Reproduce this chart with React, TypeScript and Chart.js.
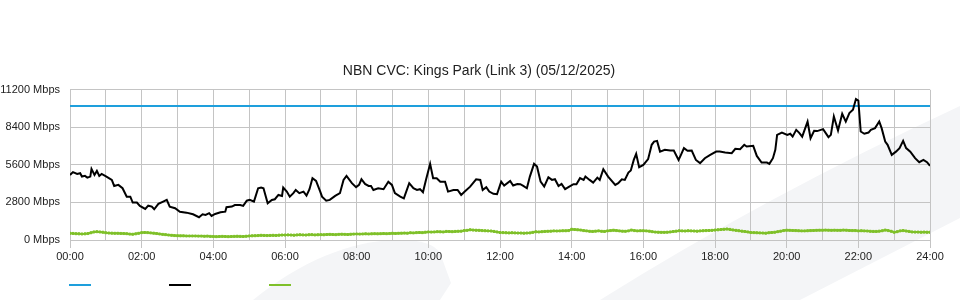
import React, { useEffect, useRef } from 'react';
import { Chart, registerables } from 'chart.js';

Chart.register(...registerables);

const TITLE = 'NBN CVC: Kings Park (Link 3) (05/12/2025)';
const Y_MAX = 11200;
const Y_STEP = 2800;
const X_LABEL_EVERY_MIN = 120;
const DAY_MINUTES = 1440;

// Capacity line (Mbps)
const capacityMbps = 10000;

// Traffic (black line): sample times in minutes after midnight and values in Mbps
const trafficMinutes = [
  0, 5, 12, 17, 20, 25, 29, 34, 36, 41,
  45, 49, 53, 61, 70, 74, 81, 88, 95, 101,
  105, 112, 117, 126, 131, 137, 141, 148, 156, 162,
  167, 176, 184, 195, 206, 216, 222, 227, 233, 237,
  243, 252, 260, 262, 271, 276, 285, 290, 296, 301,
  308, 315, 320, 324, 331, 338, 343, 349, 355, 357,
  363, 368, 374, 378, 384, 391, 396, 401, 406, 412,
  419, 422, 429, 435, 444, 452, 458, 463, 472, 479,
  484, 488, 494, 500, 504, 508, 516, 525, 533, 539,
  544, 553, 559, 568, 575, 581, 586, 591, 596, 603,
  608, 614, 620, 628, 633, 642, 649, 655, 661, 670,
  680, 687, 691, 697, 702, 709, 715, 722, 727, 737,
  742, 749, 754, 759, 765, 770, 777, 782, 788, 794,
  801, 807, 812, 818, 823, 829, 836, 843, 848, 854,
  860, 863, 870, 876, 883, 887, 893, 901, 913, 918,
  924, 929, 935, 939, 944, 948, 953, 960, 968, 974,
  978, 983, 988, 996, 1005, 1011, 1019, 1023, 1028, 1034,
  1041, 1048, 1055, 1063, 1072, 1082, 1088, 1097, 1108, 1114,
  1122, 1129, 1133, 1144, 1150, 1158, 1167, 1171, 1177, 1181,
  1184, 1192, 1201, 1206, 1210, 1216, 1221, 1226, 1235, 1240,
  1246, 1251, 1261, 1270, 1274, 1279, 1286, 1293, 1299, 1305,
  1311, 1316, 1320, 1324, 1330, 1337, 1341, 1348, 1355, 1359,
  1365, 1369, 1376, 1383, 1389, 1395, 1400, 1407, 1415, 1422,
  1429, 1435, 1440,
];
const trafficMbps = [
  4850, 5060, 4930, 4980, 4730, 4780, 4650, 4730, 5300, 4850,
  5150, 4780, 4930, 4730, 4480, 4030, 4110, 3860, 3230, 3230,
  2790, 2790, 2540, 2320, 2560, 2490, 2290, 2690, 2860, 2990,
  2490, 2370, 2110, 2040, 1920, 1700, 1920, 1870, 2000, 1790,
  1940, 2070, 2110, 2440, 2490, 2610, 2610, 2540, 2930, 2990,
  2860, 3860, 3910, 3860, 2740, 2990, 3040, 3360, 3290, 3910,
  3610, 3230, 3490, 3730, 3490, 3610, 3310, 3790, 4610, 4410,
  3610, 3230, 2930, 2990, 3290, 3490, 4480, 4780, 4240, 3940,
  4110, 4530, 4180, 4030, 4030, 3730, 3860, 3790, 4350, 4110,
  3490, 3230, 3110, 4240, 3860, 3730, 3790, 3560, 4480, 5680,
  4610, 4610, 4350, 4350, 3610, 3730, 3730, 3360, 3610, 3980,
  4530, 4480, 3730, 3940, 3610, 3440, 3410, 4350, 4060, 4410,
  4060, 4180, 4160, 4030, 3860, 4730, 5680, 5470, 4350, 3980,
  4680, 4480, 4530, 4030, 4180, 3790, 3980, 4160, 4160, 4610,
  4480, 4730, 4480, 4280, 4650, 4480, 5280, 4730, 4110, 4240,
  4530, 4480, 5030, 5180, 5970, 6420, 5430, 5600, 6030, 7100,
  7340, 7390, 6590, 6720, 6670, 6670, 5970, 6350, 6850, 6650,
  6670, 5970, 5730, 6100, 6350, 6590, 6590, 6520, 6470, 6800,
  6770, 7100, 6970, 7020, 6270, 5770, 5770, 5680, 6100, 6720,
  7840, 8010, 7840, 7920, 7710, 8210, 7990, 7710, 8830, 7590,
  8140, 8120, 8270, 7670, 7840, 9210, 8160, 9410, 8830, 9460,
  9710, 10510, 10400, 8090, 7920, 8010, 8210, 8340, 8830, 8340,
  7340, 7100, 6350, 6590, 6850, 7390, 6850, 6590, 6100, 5800,
  5970, 5800, 5530,
];

// Green line: one value every 5 minutes (12 per hour), 00:00 .. 24:00
const greenStepMinutes = 5;
const greenMbps = [
  500, 490, 470, 460, 450, 460, 480, 540, 600, 620, 600, 580,
  540, 520, 510, 500, 500, 490, 480, 470, 440, 430, 460, 500,
  550, 560, 550, 530, 510, 480, 450, 420, 400, 370, 350, 330,
  320, 310, 310, 300, 300, 300, 300, 290, 290, 280, 290, 270,
  260, 250, 260, 270, 260, 250, 260, 270, 280, 270, 260, 280,
  300, 310, 320, 330, 350, 340, 330, 340, 350, 340, 360, 370,
  370, 380, 370, 360, 380, 390, 380, 370, 390, 400, 380, 390,
  400, 390, 410, 420, 410, 400, 420, 430, 420, 410, 430, 440,
  450, 440, 450, 460, 450, 460, 470, 460, 470, 480, 470, 480,
  500, 490, 500, 510, 520, 510, 540, 530, 550, 560, 550, 580,
  600, 590, 600, 620, 610, 600, 640, 630, 620, 640, 650, 660,
  700, 720, 760, 740, 730, 720, 700, 690, 680, 670, 640, 600,
  560, 550, 540, 530, 540, 530, 520, 520, 510, 520, 530, 570,
  610, 600, 620, 640, 650, 660, 680, 670, 680, 690, 690, 700,
  800, 780, 760, 740, 700, 680, 650, 640, 660, 680, 650, 640,
  680, 700, 730, 700, 680, 660, 650, 680, 740, 700, 680, 690,
  690, 680, 660, 620, 590, 580, 570, 570, 580, 600, 630, 660,
  690, 680, 670, 690, 680, 670, 660, 680, 690, 700, 710, 720,
  740, 760, 780, 800, 820, 790, 750, 720, 690, 660, 630, 600,
  560, 550, 540, 530, 520, 510, 540, 560, 580, 620, 660, 700,
  730, 720, 710, 700, 690, 680, 680, 690, 700, 710, 720, 730,
  730, 740, 730, 720, 730, 720, 720, 740, 730, 710, 700, 700,
  680, 690, 680, 670, 650, 640, 640, 660, 690, 740, 700, 650,
  580, 620, 680, 700, 670, 640, 600, 590, 590, 580, 590, 580,
  580,
];

const COLOR_CAPACITY = '#1e9fdc';
const COLOR_TRAFFIC = '#000000';
const COLOR_GREEN = '#7fc02a';
const GRID_COLOR = '#c4c4c4';
const FONT = "'Liberation Sans', Arial, Helvetica, sans-serif";

function hhmm(min: number): string {
  const h = Math.floor(min / 60);
  const m = min % 60;
  return `${String(h).padStart(2, '0')}:${String(m).padStart(2, '0')}`;
}

const watermarkPlugin = {
  id: 'watermark',
  beforeDraw(chart: any) {
    const { ctx } = chart;
    ctx.save();
    ctx.fillStyle = '#f4f5f7';
    ctx.beginPath();
    ctx.moveTo(253, 300);
    ctx.bezierCurveTo(300, 262, 350, 240, 400, 240);
    ctx.quadraticCurveTo(432, 240, 440, 253);
    ctx.lineTo(451, 283);
    ctx.lineTo(440, 300);
    ctx.closePath();
    ctx.fill();
    ctx.beginPath();
    ctx.moveTo(600, 300);
    ctx.quadraticCurveTo(766, 196, 960, 106);
    ctx.lineTo(960, 218);
    ctx.lineTo(800, 300);
    ctx.closePath();
    ctx.fill();
    ctx.restore();
  },
};

const lineLegendPlugin = {
  id: 'lineLegend',
  afterDraw(chart: any) {
    const { ctx } = chart;
    ctx.save();
    chart.data.datasets.forEach((ds: any, i: number) => {
      const x = 69 + i * 100;
      const y = 285;
      ctx.strokeStyle = ds.borderColor;
      ctx.lineWidth = 2;
      ctx.beginPath();
      ctx.moveTo(x, y);
      ctx.lineTo(x + 22, y);
      ctx.stroke();
    });
    ctx.restore();
  },
};

export default function App() {
  const canvasRef = useRef<HTMLCanvasElement | null>(null);

  useEffect(() => {
    document.body.style.margin = '0';
    const canvas = canvasRef.current;
    if (!canvas) return;

    const trafficData = trafficMinutes.map((t, i) => ({ x: t, y: trafficMbps[i] }));
    const greenData = greenMbps.map((v, i) => ({ x: i * greenStepMinutes, y: v }));
    const capacityData = [
      { x: 0, y: capacityMbps },
      { x: DAY_MINUTES, y: capacityMbps },
    ];

    const chart = new Chart(canvas, {
      type: 'line',
      data: {
        datasets: [
          {
            label: '',
            data: capacityData,
            borderColor: COLOR_CAPACITY,
            backgroundColor: COLOR_CAPACITY,
            borderWidth: 2,
            pointRadius: 0,
            order: 1,
          },
          {
            label: '',
            data: trafficData,
            borderColor: COLOR_TRAFFIC,
            backgroundColor: COLOR_TRAFFIC,
            borderWidth: 2,
            pointRadius: 0,
            tension: 0,
            order: 0,
          },
          {
            label: '',
            data: greenData,
            borderColor: COLOR_GREEN,
            backgroundColor: COLOR_GREEN,
            borderWidth: 2,
            pointRadius: 1.4,
            pointStyle: 'rect',
            pointBorderWidth: 1,
            order: 2,
          },
        ],
      },
      options: {
        responsive: false,
        animation: false,
        devicePixelRatio: 1,
        layout: { padding: { top: 53, left: 0, right: 2, bottom: 38 } },
        plugins: {
          legend: { display: false },
          tooltip: { enabled: false },
          title: {
            display: true,
            text: TITLE,
            color: '#222',
            font: { family: FONT, size: 14, weight: 'normal' },
            padding: { top: 10, bottom: 10 },
          },
        },
        scales: {
          x: {
            type: 'linear',
            min: 0,
            max: DAY_MINUTES,
            afterFit: (scale: any) => {
              scale.height = 22;
            },
            ticks: {
              stepSize: 60,
              autoSkip: false,
              maxRotation: 0,
              padding: 2,
              color: '#222',
              font: { family: FONT, size: 11 },
              callback: (v: any) => (Number(v) % X_LABEL_EVERY_MIN === 0 ? hhmm(Number(v)) : ''),
            },
            grid: {
              color: GRID_COLOR,
              lineWidth: 1,
              tickLength: 8,
              tickColor: (ctx: any) =>
                ctx.tick && ctx.tick.value % X_LABEL_EVERY_MIN === 0 ? GRID_COLOR : 'rgba(0,0,0,0)',
            },
            border: { display: false },
          },
          y: {
            min: 0,
            max: Y_MAX,
            afterFit: (scale: any) => {
              scale.width = 70;
            },
            ticks: {
              stepSize: Y_STEP,
              padding: 10,
              color: '#222',
              font: { family: FONT, size: 11 },
              callback: (v: any) => `${v} Mbps`,
            },
            grid: { color: GRID_COLOR, lineWidth: 1, drawTicks: false },
            border: { display: false },
          },
          yRight: {
            position: 'right',
            display: true,
            min: 0,
            max: Y_MAX,
            afterFit: (scale: any) => {
              scale.width = 28;
            },
            ticks: { display: false },
            grid: { display: false, drawOnChartArea: false },
            border: { display: false },
          },
        },
      },
      plugins: [watermarkPlugin, lineLegendPlugin],
    });

    return () => chart.destroy();
  }, []);

  return (
    <div style={{ width: 960, height: 300 }}>
      <canvas ref={canvasRef} width={960} height={300} style={{ display: 'block' }} />
    </div>
  );
}
